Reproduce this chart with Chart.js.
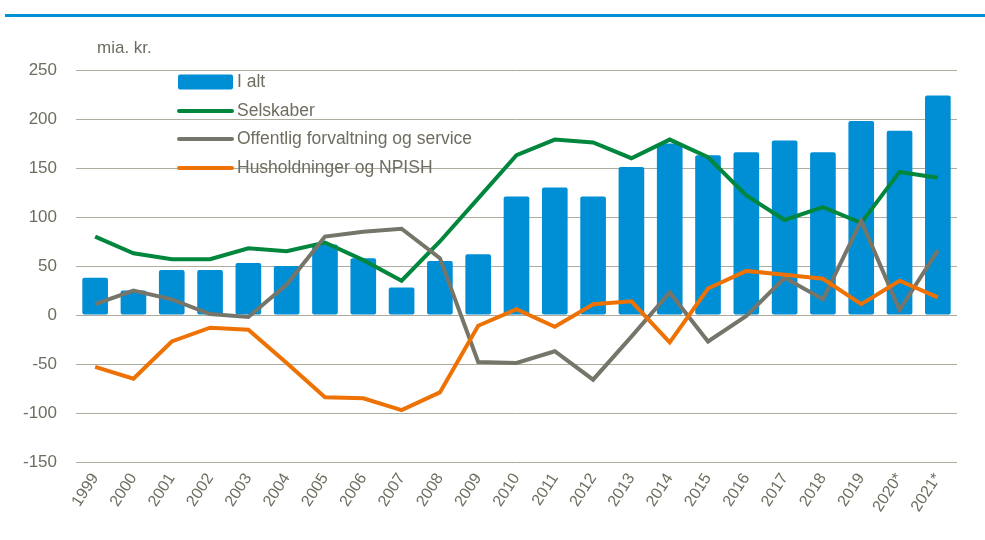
<!DOCTYPE html>
<html>
<head>
<meta charset="utf-8">
<script src="https://cdn.jsdelivr.net/npm/chart.js@4"></script>
<style>
html,body{margin:0;padding:0;background:#fff;}
#wrap{position:absolute;left:0;top:0;width:985px;height:540px;}
</style>
</head>
<body>
<div id="wrap"><canvas id="c" width="985" height="540"></canvas></div>
<script>
const years = ['1999','2000','2001','2002','2003','2004','2005','2006','2007','2008','2009','2010','2011','2012','2013','2014','2015','2016','2017','2018','2019','2020*','2021*'];
const iAlt = [38,25,46,46,53,50,72,58,28,55,62,121,130,121,151,175,163,166,178,166,198,188,224];
const selskaber = [80,63,57,57,68,65,74,56,35,75,119,163,179,176,160,179,161,122,97,110,94,146,140];
const offentlig = [11,25,16,1,-2,31,80,85,88,58,-48,-49,-37,-66,-22,23,-27,-1,38,16,96,5,66];
const husholdninger = [-53,-65,-27,-13,-15,-49,-84,-85,-97,-79,-11,6,-12,11,14,-28,27,45,41,37,11,35,18];
const seriesNames = ['I alt','Selskaber','Offentlig forvaltning og service','Husholdninger og NPISH'];
const unitLabel = 'mia. kr.';

const FONT = '"Liberation Sans Narrow","Arial Narrow","Liberation Sans",sans-serif';
const TXT = '#6f6d60';
const BLUE = '#008fd5', GREEN = '#00873d', GRAY = '#76756a', ORANGE = '#ee7203';

const deco = {
  id:'deco',
  afterDraw(chart){
    const ctx = chart.ctx;
    ctx.save();
    ctx.fillStyle = '#0090d4';
    ctx.fillRect(5,14,980,3);
    ctx.fillStyle = TXT;
    ctx.font = '17px ' + FONT;
    ctx.textBaseline = 'middle';
    ctx.textAlign = 'left';
    ctx.fillText(unitLabel, 97, 48);
    const ds = chart.data.datasets;
    const x0 = 178, x1 = 233, ys = [82,111,139,168];
    ctx.font = '17.5px ' + FONT;
    ds.forEach((d,i)=>{
      const y = ys[i];
      if (d.type === 'bar') {
        ctx.fillStyle = d.backgroundColor;
        ctx.beginPath();
        ctx.roundRect(x0, y-7.5, x1-x0, 15, 2);
        ctx.fill();
      } else {
        ctx.strokeStyle = d.borderColor;
        ctx.lineWidth = 4;
        ctx.lineCap = 'round';
        ctx.beginPath();
        ctx.moveTo(x0+1, y); ctx.lineTo(x1-1, y);
        ctx.stroke();
      }
      ctx.fillStyle = TXT;
      ctx.fillText(d.label, 237, y);
    });
    ctx.restore();
  }
};

new Chart(document.getElementById('c'), {
  type:'bar',
  data:{
    labels: years,
    datasets:[
      {type:'bar', label:seriesNames[0], data:iAlt, backgroundColor:BLUE, borderWidth:0, borderRadius:2, borderSkipped:false, categoryPercentage:1, barPercentage:0.67, order:4},
      {type:'line', label:seriesNames[1], data:selskaber, borderColor:GREEN, backgroundColor:GREEN, borderWidth:4, pointRadius:0, tension:0, order:3},
      {type:'line', label:seriesNames[2], data:offentlig, borderColor:GRAY, backgroundColor:GRAY, borderWidth:4, pointRadius:0, tension:0, order:2},
      {type:'line', label:seriesNames[3], data:husholdninger, borderColor:ORANGE, backgroundColor:ORANGE, borderWidth:4, pointRadius:0, tension:0, order:1},
    ]
  },
  options:{
    responsive:false,
    animation:false,
    layout:{padding:{top:70,right:28,left:0,bottom:0}},
    plugins:{legend:{display:false},tooltip:{enabled:false},title:{display:false}},
    scales:{
      x:{
        offset:true,
        grid:{display:false},
        border:{display:false},
        ticks:{color:TXT,font:{family:FONT,size:16},minRotation:57,maxRotation:57,padding:0,autoSkip:false},
        afterFit(s){ s.height = 78; }
      },
      y:{
        min:-150,max:250,
        grid:{color:'#aeac9e',lineWidth:1,drawTicks:false},
        border:{display:false},
        ticks:{stepSize:50,color:TXT,font:{family:FONT,size:17},padding:19},
        afterFit(s){ s.width = 76; }
      }
    }
  },
  plugins:[deco]
});
</script>
</body>
</html>
